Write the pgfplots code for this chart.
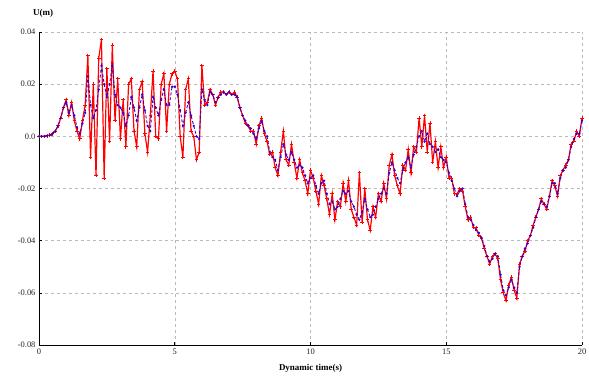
\documentclass[border=0pt]{standalone}
\usepackage{pgfplots}
\pgfplotsset{compat=1.18}
\usepackage{fontspec}
\setmainfont{Liberation Serif}
\begin{document}
\begin{tikzpicture}
\begin{axis}[
  at={(0,0)}, anchor=south west,
  scale only axis, width=543bp, height=313bp,
  xmin=0, xmax=20, ymin=-0.08, ymax=0.04,
  xtick={0,5,10,15,20},
  ytick={-0.08,-0.06,-0.04,-0.02,0,0.02,0.04},
  yticklabels={-0.08,-0.06,-0.04,-0.02,0.0,0.02,0.04},
  scaled y ticks=false,
  /pgf/number format/assume math mode=true,
  tick label style={font=\fontsize{8.5}{9}\selectfont, text=black!85},
  axis x line*=bottom, axis y line*=left,
  axis line style={-, black, line width=1pt},
  grid=major,
  major grid style={gray!55, dashed, line width=0.5pt},
  tick style={black, line width=0.6pt},
  major tick length=3bp,
  clip=false,
  xlabel={\bfseries Dynamic time(s)},
  xlabel style={at={(rel axis cs:0.5,0)}, anchor=base, yshift=-25bp, font=\fontsize{9}{10}\selectfont},
]
\addplot[red, line width=1.2pt, mark=+, mark size=1.8pt, mark options={solid, line width=0.9pt}] coordinates {
(0.0,0) (0.1,0) (0.2,0) (0.3,0.0002) (0.4,0.0005) (0.5,0.001) (0.6,0.002) (0.7,0.004) (0.8,0.007) (0.9,0.011)
(1.0,0.014) (1.1,0.008) (1.2,0.013) (1.3,0.006) (1.4,0.002) (1.5,-0.001) (1.6,0.006) (1.7,0.012) (1.8,0.031) (1.9,-0.008)
(2.0,0.020) (2.1,-0.015) (2.2,0.030) (2.3,0.037) (2.4,-0.016) (2.5,0.026) (2.6,-0.002) (2.7,0.035) (2.8,0.006) (2.9,0.022)
(3.0,-0.001) (3.1,0.014) (3.2,-0.004) (3.3,0.020) (3.4,0.022) (3.5,0.002) (3.6,-0.004) (3.7,0.018) (3.8,0.021) (3.9,0.001)
(4.0,-0.006) (4.1,0.008) (4.2,0.025) (4.3,0.000) (4.4,-0.001) (4.5,0.020) (4.6,0.024) (4.7,0.002) (4.8,0.020) (4.9,0.024)
(5.0,0.025) (5.1,0.022) (5.2,0.000) (5.3,-0.008) (5.4,0.018) (5.5,0.022) (5.6,0.002) (5.7,0.000) (5.8,-0.009) (5.9,-0.006)
(6.0,0.027) (6.1,0.012) (6.2,0.013) (6.3,0.018) (6.4,0.016) (6.5,0.012) (6.6,0.015) (6.7,0.017) (6.8,0.017) (6.9,0.016)
(7.0,0.017) (7.1,0.016) (7.2,0.017) (7.3,0.015) (7.4,0.011) (7.5,0.008) (7.6,0.005) (7.7,0.004) (7.8,0.002) (7.9,0.002)
(8.0,-0.003) (8.1,0.004) (8.2,0.007) (8.3,0.001) (8.4,-0.002) (8.5,-0.007) (8.6,-0.006) (8.7,-0.012) (8.8,-0.015) (8.9,-0.006)
(9.0,0.002) (9.1,-0.009) (9.2,-0.011) (9.3,-0.003) (9.4,-0.010) (9.5,-0.016) (9.6,-0.009) (9.7,-0.014) (9.8,-0.017) (9.9,-0.022)
(10.0,-0.013) (10.1,-0.016) (10.2,-0.021) (10.3,-0.026) (10.4,-0.015) (10.5,-0.019) (10.6,-0.024) (10.7,-0.030) (10.8,-0.022) (10.9,-0.032)
(11.0,-0.025) (11.1,-0.027) (11.2,-0.018) (11.3,-0.025) (11.4,-0.017) (11.5,-0.028) (11.6,-0.031) (11.7,-0.034) (11.8,-0.014) (11.9,-0.033)
(12.0,-0.020) (12.1,-0.032) (12.2,-0.036) (12.3,-0.027) (12.4,-0.031) (12.5,-0.022) (12.6,-0.025) (12.7,-0.018) (12.8,-0.024) (12.9,-0.011)
(13.0,-0.007) (13.1,-0.015) (13.2,-0.019) (13.3,-0.022) (13.4,-0.011) (13.5,-0.013) (13.6,-0.005) (13.7,-0.014) (13.8,-0.004) (13.9,-0.006)
(14.0,0.007) (14.1,-0.004) (14.2,0.008) (14.3,-0.006) (14.4,0.005) (14.5,-0.010) (14.6,-0.002) (14.7,-0.012) (14.8,-0.004) (14.9,-0.012)
(15.0,-0.008) (15.1,-0.016) (15.2,-0.016) (15.3,-0.022) (15.4,-0.022) (15.5,-0.020) (15.6,-0.021) (15.7,-0.027) (15.8,-0.032) (15.9,-0.031)
(16.0,-0.035) (16.1,-0.035) (16.2,-0.038) (16.3,-0.039) (16.4,-0.043) (16.5,-0.046) (16.6,-0.049) (16.7,-0.046) (16.8,-0.045) (16.9,-0.047)
(17.0,-0.055) (17.1,-0.060) (17.2,-0.063) (17.3,-0.057) (17.4,-0.054) (17.5,-0.059) (17.6,-0.062) (17.7,-0.049) (17.8,-0.046) (17.9,-0.044)
(18.0,-0.040) (18.1,-0.038) (18.2,-0.034) (18.3,-0.031) (18.4,-0.028) (18.5,-0.024) (18.6,-0.026) (18.7,-0.028) (18.8,-0.023) (18.9,-0.017)
(19.0,-0.019) (19.1,-0.023) (19.2,-0.015) (19.3,-0.013) (19.4,-0.011) (19.5,-0.009) (19.6,-0.003) (19.7,-0.002) (19.8,0.002) (19.9,0.000)
(20.0,0.007)
};
\addplot[blue!80!red, densely dashed, line width=0.9pt, mark=*, mark size=0.65pt, mark options={solid}] coordinates {
(0.0,0) (0.1,0) (0.2,0) (0.3,0.0002) (0.4,0.0005) (0.5,0.001) (0.6,0.002) (0.7,0.004) (0.8,0.007) (0.9,0.011)
(1.0,0.013) (1.1,0.009) (1.2,0.012) (1.3,0.008) (1.4,0.0035) (1.5,0.001) (1.6,0.005) (1.7,0.009) (1.8,0.023) (1.9,0.012)
(2.0,0.007) (2.1,0.010) (2.2,0.018) (2.3,0.027) (2.4,0.020) (2.5,0.015) (2.6,0.020) (2.7,0.027) (2.8,0.016) (2.9,0.012)
(3.0,0.011) (3.1,0.009) (3.2,0.004) (3.3,0.008) (3.4,0.015) (3.5,0.011) (3.6,0.006) (3.7,0.011) (3.8,0.016) (3.9,0.010)
(4.0,0.004) (4.1,0.002) (4.2,0.015) (4.3,0.011) (4.4,0.008) (4.5,0.014) (4.6,0.018) (4.7,0.012) (4.8,0.012) (4.9,0.019)
(5.0,0.019) (5.1,0.016) (5.2,0.010) (5.3,0.004) (5.4,0.009) (5.5,0.013) (5.6,0.008) (5.7,0.004) (5.8,0.000) (5.9,-0.001)
(6.0,0.018) (6.1,0.014) (6.2,0.012) (6.3,0.017) (6.4,0.016) (6.5,0.013) (6.6,0.015) (6.7,0.016) (6.8,0.017) (6.9,0.016)
(7.0,0.017) (7.1,0.016) (7.2,0.016) (7.3,0.015) (7.4,0.011) (7.5,0.008) (7.6,0.006) (7.7,0.004) (7.8,0.003) (7.9,0.001)
(8.0,-0.001) (8.1,0.003) (8.2,0.006) (8.3,0.002) (8.4,0.000) (8.5,-0.006) (8.6,-0.008) (8.7,-0.009) (8.8,-0.013) (8.9,-0.008)
(9.0,-0.003) (9.1,-0.007) (9.2,-0.009) (9.3,-0.006) (9.4,-0.009) (9.5,-0.012) (9.6,-0.011) (9.7,-0.012) (9.8,-0.015) (9.9,-0.018)
(10.0,-0.016) (10.1,-0.015) (10.2,-0.019) (10.3,-0.022) (10.4,-0.018) (10.5,-0.017) (10.6,-0.022) (10.7,-0.026) (10.8,-0.025) (10.9,-0.028)
(11.0,-0.027) (11.1,-0.024) (11.2,-0.021) (11.3,-0.022) (11.4,-0.021) (11.5,-0.025) (11.6,-0.027) (11.7,-0.030) (11.8,-0.032) (11.9,-0.029)
(12.0,-0.024) (12.1,-0.028) (12.2,-0.031) (12.3,-0.030) (12.4,-0.027) (12.5,-0.024) (12.6,-0.022) (12.7,-0.020) (12.8,-0.022) (12.9,-0.014)
(13.0,-0.010) (13.1,-0.013) (13.2,-0.016) (13.3,-0.018) (13.4,-0.013) (13.5,-0.010) (13.6,-0.008) (13.7,-0.012) (13.8,-0.007) (13.9,-0.004)
(14.0,0.000) (14.1,0.002) (14.2,-0.002) (14.3,0.001) (14.4,-0.003) (14.5,-0.004) (14.6,-0.006) (14.7,-0.005) (14.8,-0.008) (14.9,-0.009)
(15.0,-0.010) (15.1,-0.014) (15.2,-0.017) (15.3,-0.020) (15.4,-0.023) (15.5,-0.021) (15.6,-0.020) (15.7,-0.026) (15.8,-0.031) (15.9,-0.032)
(16.0,-0.034) (16.1,-0.036) (16.2,-0.037) (16.3,-0.039) (16.4,-0.042) (16.5,-0.046) (16.6,-0.048) (16.7,-0.047) (16.8,-0.045) (16.9,-0.046)
(17.0,-0.053) (17.1,-0.059) (17.2,-0.061) (17.3,-0.058) (17.4,-0.055) (17.5,-0.058) (17.6,-0.060) (17.7,-0.050) (17.8,-0.046) (17.9,-0.043)
(18.0,-0.041) (18.1,-0.038) (18.2,-0.035) (18.3,-0.031) (18.4,-0.028) (18.5,-0.025) (18.6,-0.026) (18.7,-0.027) (18.8,-0.023) (18.9,-0.018)
(19.0,-0.018) (19.1,-0.022) (19.2,-0.016) (19.3,-0.013) (19.4,-0.012) (19.5,-0.009) (19.6,-0.004) (19.7,-0.001) (19.8,0.001) (19.9,0.001)
(20.0,0.006)
};
\end{axis}
\node[anchor=base west, inner sep=0pt, font=\bfseries\fontsize{9}{10}\selectfont] at (-6bp,329bp) {U(m)};
\pgfresetboundingbox
\path[use as bounding box] (-39bp,-31bp) rectangle (550bp,345bp);
\end{tikzpicture}
\end{document}
